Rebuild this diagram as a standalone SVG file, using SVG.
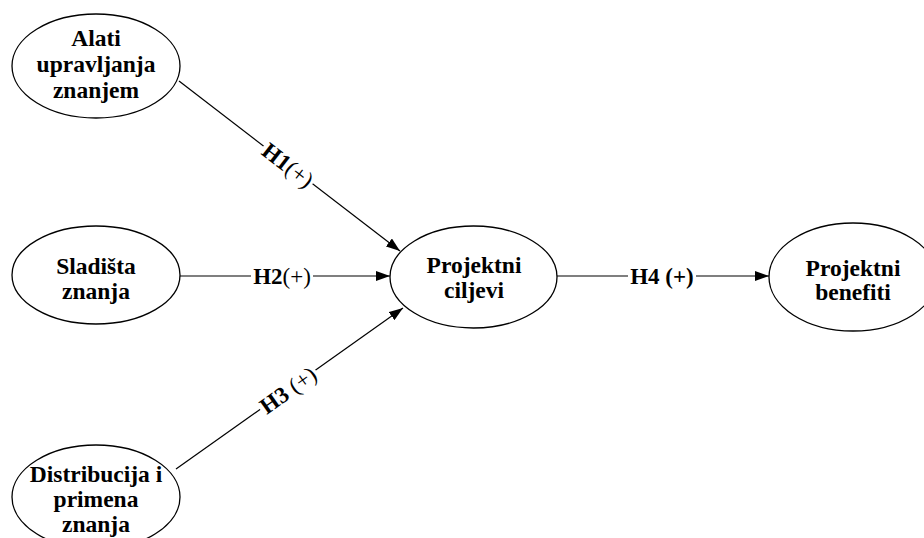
<svg xmlns="http://www.w3.org/2000/svg" width="924" height="538" viewBox="0 0 924 538">
  <style>
    .node ellipse { fill: #ffffff; stroke: #000000; stroke-width: 1.3; }
    .node text { font-family: "Liberation Serif", "Times New Roman", serif; font-weight: bold; font-size: 23.5px; fill: #000000; text-anchor: middle; }
    .edge line { stroke: #000000; stroke-width: 1.2; }
    .lbl { font-family: "Liberation Serif", "Times New Roman", serif; font-size: 23px; fill: #000000; text-anchor: middle; }
    .lbl .b { font-weight: bold; }
    .bg { fill: #ffffff; }
  </style>
  <defs>
    <marker id="arrow" viewBox="0 0 14 10" refX="14" refY="5" markerWidth="14" markerHeight="10" markerUnits="userSpaceOnUse" orient="auto">
      <path d="M0,0 L14,5 L0,10 Z" fill="#000000"/>
    </marker>
  </defs>

  <!-- connectors -->
  <g id="edges" class="edge">
    <line x1="179" y1="81" x2="400" y2="251" marker-end="url(#arrow)"/>
    <line x1="180" y1="276" x2="390" y2="276" marker-end="url(#arrow)"/>
    <line x1="176" y1="469" x2="403" y2="308" marker-end="url(#arrow)"/>
    <line x1="557" y1="276" x2="769" y2="276" marker-end="url(#arrow)"/>

    <g transform="translate(288,165) rotate(37.6)">
      <rect class="bg" x="-31" y="-10" width="62" height="20"/>
      <text class="lbl" x="0" y="8"><tspan class="b">H1</tspan>(+)</text>
    </g>
    <g transform="translate(282,276)">
      <rect class="bg" x="-31" y="-10" width="62" height="20"/>
      <text class="lbl" x="0" y="8"><tspan class="b">H2</tspan>(+)</text>
    </g>
    <g transform="translate(288,390) rotate(-35.5)">
      <rect class="bg" x="-34" y="-10" width="68" height="20"/>
      <text class="lbl" x="0" y="8"><tspan class="b">H3</tspan> (+)</text>
    </g>
    <g transform="translate(662,276)">
      <rect class="bg" x="-34" y="-10" width="68" height="20"/>
      <text class="lbl" x="0" y="8"><tspan class="b">H4 (+)</tspan></text>
    </g>
  </g>

  <!-- nodes -->
  <g id="alati" class="node">
    <ellipse cx="96" cy="66" rx="84" ry="52"/>
    <text x="96" y="46">Alati</text>
    <text x="96" y="72">upravljanja</text>
    <text x="96" y="98">znanjem</text>
  </g>
  <g id="sladista" class="node">
    <ellipse cx="96" cy="275" rx="84" ry="49"/>
    <text x="96" y="274">Sladišta</text>
    <text x="96" y="299">znanja</text>
  </g>
  <g id="distribucija" class="node">
    <ellipse cx="96" cy="497" rx="84" ry="52"/>
    <text x="96" y="482">Distribucija i</text>
    <text x="96" y="507">primena</text>
    <text x="96" y="532">znanja</text>
  </g>
  <g id="ciljevi" class="node">
    <ellipse cx="473.5" cy="277" rx="83.5" ry="51"/>
    <text x="474" y="273">Projektni</text>
    <text x="474" y="298">ciljevi</text>
  </g>
  <g id="benefiti" class="node">
    <ellipse cx="853" cy="277" rx="84" ry="54"/>
    <text x="853" y="276">Projektni</text>
    <text x="853" y="300">benefiti</text>
  </g>
</svg>
